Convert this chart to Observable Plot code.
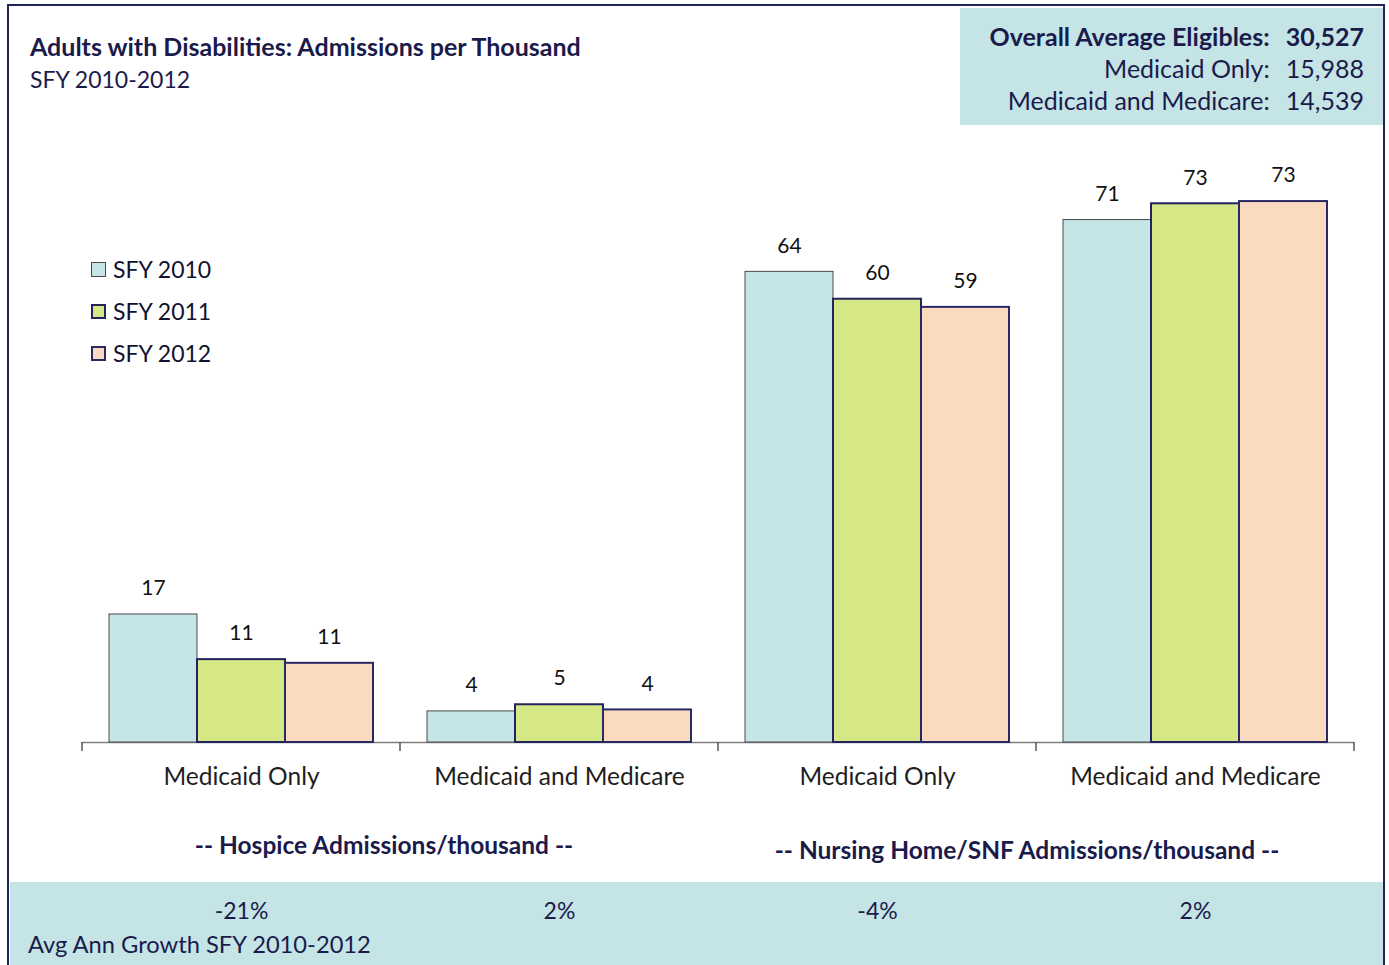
<!DOCTYPE html>
<html>
<head>
<meta charset="utf-8">
<script src="https://cdn.jsdelivr.net/npm/d3@7"></script>
<script src="https://cdn.jsdelivr.net/npm/@observablehq/plot@0.6"></script>
<style>
  html, body { margin: 0; padding: 0; background: #fff; }
  #wrap { position: relative; width: 1389px; height: 965px; overflow: hidden; font-family: Lato, "Open Sans", sans-serif; color: #1b1b4b; }
  #frame { position: absolute; left: 7px; top: 4px; width: 1378px; height: 980px; border: 2px solid #1f2459; box-sizing: border-box; }
  #box { position: absolute; left: 960px; top: 8px; width: 423px; height: 117px; background: #c4e4e6; }
  #band { position: absolute; left: 10px; top: 882px; width: 1373px; height: 90px; background: #c4e4e6; }
  #plot { position: absolute; left: 0; top: 0; }
  .t { position: absolute; white-space: nowrap; }
  #title { left: 30px; top: 31px; font-size: 25px; font-weight: 700; line-height: 30px; }
  #sub { left: 30px; top: 64px; font-size: 23px; line-height: 30px; }
  #elig { position: absolute; right: 25px; top: 20px; display: grid; grid-template-columns: auto auto; column-gap: 16px; font-size: 25px; line-height: 32px; text-align: right; }
  #elig .b { font-weight: 700; }
  #legend { position: absolute; left: 91px; top: 248px; font-size: 23px; color: #111130; }
  #legend .row { height: 42px; display: flex; align-items: center; }
  #legend .sw { width: 15px; height: 15px; margin-right: 7px; box-sizing: border-box; }
  .grp { font-size: 24.5px; font-weight: 700; transform: translateX(-50%); line-height: 30px; }
  #avg { left: 28px; top: 929px; font-size: 23.7px; line-height: 30px; }
</style>
</head>
<body>
<div id="wrap">
  <div id="box"></div>
  <div id="band"></div>
  <div id="frame"></div>
  <div id="plot"></div>
  <div class="t" id="title"></div>
  <div class="t" id="sub"></div>
  <div id="elig"></div>
  <div id="legend"></div>
  <div class="t grp" id="g0"></div>
  <div class="t grp" id="g1"></div>
  <div class="t" id="avg"></div>
</div>
<script>
// ---- data ----
const titleText = "Adults with Disabilities: Admissions per Thousand";
const subtitleText = "SFY 2010-2012";
const years = ["SFY 2010", "SFY 2011", "SFY 2012"];
const groupKeys = ["hosp-mo", "hosp-mm", "nh-mo", "nh-mm"];
const groupLabels = ["Medicaid Only", "Medicaid and Medicare", "Medicaid Only", "Medicaid and Medicare"];
const values2010 = [17.3, 4.2, 63.6, 70.6];
const values2011 = [11.2, 5.1, 59.9, 72.8];
const values2012 = [10.7, 4.4, 58.8, 73.1];
const growthLabels = ["-21%", "2%", "-4%", "2%"];
const sectionLabels = ["-- Hospice Admissions/thousand --", "-- Nursing Home/SNF Admissions/thousand --"];
const eligLabels = ["Overall Average Eligibles:", "Medicaid Only:", "Medicaid and Medicare:"];
const eligValues = ["30,527", "15,988", "14,539"];
const growthCaption = "Avg Ann Growth SFY 2010-2012";

const fills = ["#c5e5e7", "#d6e786", "#fbdbc0"];
const strokes = ["#4a4a4a", "#23235f", "#2a2a62"];
const strokeW = [1, 2, 2];

// ---- table ----
const seriesVals = [values2010, values2011, values2012];
const data = [];
groupKeys.forEach((g, i) => years.forEach((y, j) => data.push({group: g, year: y, value: seriesVals[j][i]})));
const growth = groupKeys.map((g, i) => ({group: g, text: growthLabels[i]}));
const labelOf = Object.fromEntries(groupKeys.map((k, i) => [k, groupLabels[i]]));

// ---- html text ----
document.getElementById("title").textContent = titleText;
document.getElementById("sub").textContent = subtitleText;
const elig = document.getElementById("elig");
eligLabels.forEach((l, i) => {
  const a = document.createElement("div"); a.textContent = l;
  const b = document.createElement("div"); b.textContent = eligValues[i];
  if (i === 0) { a.className = "b"; b.className = "b"; }
  elig.appendChild(a); elig.appendChild(b);
});
const legend = document.getElementById("legend");
years.forEach((y, j) => {
  const r = document.createElement("div"); r.className = "row";
  const s = document.createElement("div"); s.className = "sw";
  s.style.background = fills[j]; s.style.border = `${j === 0 ? 1 : 2}px solid ${strokes[j]}`;
  const t = document.createElement("span"); t.textContent = y;
  r.appendChild(s); r.appendChild(t); legend.appendChild(r);
});
document.getElementById("avg").textContent = growthCaption;

// ---- plot ----
const fontFam = "Lato, 'Open Sans', sans-serif";
const plot = Plot.plot({
  width: 1389,
  height: 965,
  marginLeft: 81,
  marginRight: 34,
  marginTop: 150,
  marginBottom: 223,
  style: {background: "transparent", fontFamily: fontFam},
  fx: {domain: groupKeys, padding: 0, label: null},
  x: {domain: years, paddingInner: 0, paddingOuter: 0.3, axis: null},
  y: {domain: [0, 80], axis: null},
  marks: [
    Plot.ruleY([0], {stroke: "#808080", strokeWidth: 1.5}),
    ...years.map((yr, j) => Plot.barY(data.filter(d => d.year === yr), {
      fx: "group", x: "year", y: "value",
      fill: fills[j], stroke: strokes[j], strokeWidth: strokeW[j]
    })),
    Plot.text(data, {fx: "group", x: "year", y: "value", text: d => d3.format(".0f")(d.value), dy: -26, fontSize: 21, fill: "#111"}),
    Plot.axisFx({anchor: "bottom", tickSize: 0, tickPadding: 25, fontSize: 24.5, fill: "#1e1e1e", tickFormat: k => labelOf[k], label: null}),
    Plot.text(growth, {fx: "group", text: "text", frameAnchor: "bottom", dy: 176, fontSize: 23, fill: "#1b1b4b"})
  ]
});
document.getElementById("plot").appendChild(plot);

// boundary ticks from the fx scale
const fxs = plot.scale("fx");
const yScale = plot.scale("y");
const base = yScale.apply(0);
const bounds = groupKeys.map(k => fxs.apply(k)).concat([fxs.apply(groupKeys[groupKeys.length - 1]) + fxs.bandwidth]);
d3.select(plot).append("g").selectAll("line").data(bounds).join("line")
  .attr("x1", d => d).attr("x2", d => d).attr("y1", base).attr("y2", base + 9)
  .attr("stroke", "#555").attr("stroke-width", 1.5);

// section labels centered on their pairs of groups
const g0 = document.getElementById("g0");
const g1 = document.getElementById("g1");
g0.textContent = sectionLabels[0];
g1.textContent = sectionLabels[1];
g0.style.left = (bounds[1] - 16) + "px"; g0.style.top = "830px";
g1.style.left = (bounds[3] - 9) + "px"; g1.style.top = "835px";
</script>
</body>
</html>
